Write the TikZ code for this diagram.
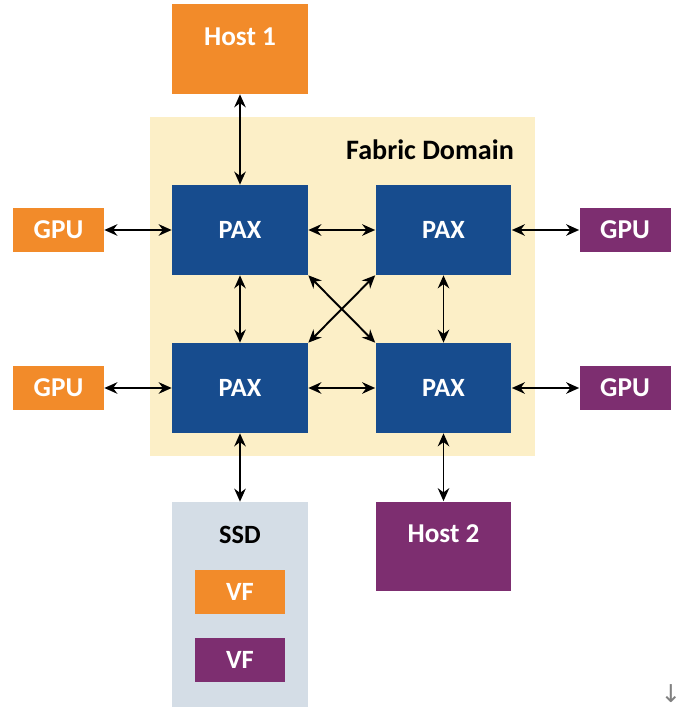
\documentclass[tikz,border=0pt]{standalone}
\usepackage{fontspec}
\setmainfont{Carlito}
\newfontfamily\symfont{DejaVu Sans}
\usetikzlibrary{arrows.meta}

\definecolor{hostorange}{HTML}{F28B2A}
\definecolor{hostpurple}{HTML}{7D2E70}
\definecolor{paxblue}{HTML}{174C8E}
\definecolor{fabricbg}{HTML}{FCEFC7}
\definecolor{ssdbg}{HTML}{D4DDE6}

\tikzset{
    box/.style={rectangle, inner sep=0pt, text=white, font=\bfseries\fontsize{15}{18}\selectfont},
    hostbox/.style={box, minimum width=2.72cm, minimum height=1.8cm, text depth=0.5cm, font=\bfseries\fontsize{15.5}{18}\selectfont},
    paxbox/.style={box, fill=paxblue, minimum width=2.72cm, minimum height=1.8cm},
    gpubox/.style={box, minimum width=1.82cm, minimum height=0.88cm, font=\bfseries\fontsize{15.5}{18}\selectfont},
    link/.style={{Stealth[length=2.6mm,width=2.3mm]}-{Stealth[length=2.6mm,width=2.3mm]}, line width=1.1pt}
}

\begin{document}
\begin{tikzpicture}[x=0.02cm, y=-0.02cm]

    \useasboundingbox (0,0) rectangle (683,715);

    \node[rectangle, fill=fabricbg, minimum width=7.7cm, minimum height=6.78cm] (fabric) at (342.5,286.5) {};
    \node[font=\bfseries\fontsize{16}{19}\selectfont] (fabriclabel) at (430,150) {Fabric Domain};

    \node[hostbox, fill=hostorange] (host1) at (240,49) {Host 1};

    \node[paxbox] (paxa) at (240,230) {PAX};
    \node[paxbox] (paxb) at (443.5,230) {PAX};
    \node[paxbox] (paxc) at (240,388) {PAX};
    \node[paxbox] (paxd) at (443.5,388) {PAX};

    \node[gpubox, fill=hostorange] (gpua) at (58.5,230) {GPU};
    \node[gpubox, fill=hostpurple] (gpub) at (625,230) {GPU};
    \node[gpubox, fill=hostorange] (gpuc) at (58.5,388) {GPU};
    \node[gpubox, fill=hostpurple] (gpud) at (625,388) {GPU};

    \node[rectangle, fill=ssdbg, minimum width=2.72cm, minimum height=4.1cm] (ssd) at (240,604.5) {};
    \node[font=\bfseries\fontsize{15}{18}\selectfont] (ssdlabel) at (240,535) {SSD};
    \node[gpubox, fill=hostorange, font=\bfseries\fontsize{15}{18}\selectfont] (vfa) at (240,592) {VF};
    \node[gpubox, fill=hostpurple, font=\bfseries\fontsize{15}{18}\selectfont] (vfb) at (240,660) {VF};

    \node[hostbox, fill=hostpurple] (host2) at (443.5,546.5) {Host 2};

    \node[text=gray, inner sep=0pt, font=\symfont\fontsize{14}{16}\selectfont] (down) at (671,694) {↓};

    \draw[link] (host1) -- (paxa);
    \draw[link] (gpua) -- (paxa);
    \draw[link] (paxa) -- (paxb);
    \draw[link] (paxb) -- (gpub);
    \draw[link] (gpuc) -- (paxc);
    \draw[link] (paxc) -- (paxd);
    \draw[link] (paxd) -- (gpud);

    \draw[link] (paxa) -- (paxc);
    \draw[link] (paxb) -- (paxd);
    \draw[link] (paxa.south east) -- (paxd.north west);
    \draw[link] (paxb.south west) -- (paxc.north east);

    \draw[link] (paxc) -- (ssd);
    \draw[link] (paxd) -- (host2);

\end{tikzpicture}
\end{document}
